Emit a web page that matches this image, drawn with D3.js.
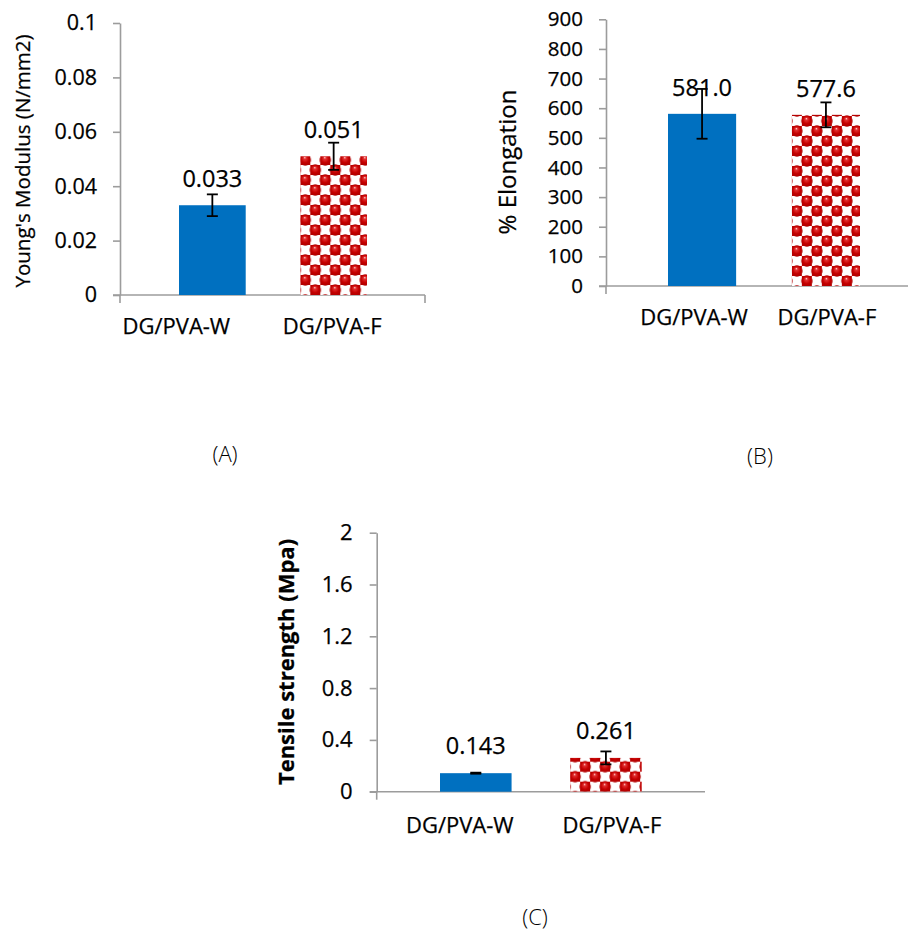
<!DOCTYPE html>
<html>
<head>
<meta charset="utf-8">
<script src="https://cdn.jsdelivr.net/npm/d3@7"></script>
<style>
  html, body { margin: 0; padding: 0; background: #fff; }
  svg { display: block; }
  text { font-family: "Open Sans", "Noto Sans", sans-serif; fill: #000; }
  text.ink { stroke: #000; stroke-width: 0.25px; }
</style>
</head>
<body>
<svg id="chart" width="912" height="932"></svg>
<script>
// Sample categories shared by all three panels
const categories = ["DG/PVA-W", "DG/PVA-F"];

// (A) Young's modulus, N/mm2
const modulusValues = [0.033, 0.051];
const modulusErrors = [0.004, 0.005];
const modulusTicks = [0, 0.02, 0.04, 0.06, 0.08, 0.1];

// (B) Elongation at break, %
const elongationValues = [581.0, 577.6];
const elongationErrors = [84, 42];
const elongationTicks = [0, 100, 200, 300, 400, 500, 600, 700, 800, 900];

// (C) Tensile strength, MPa
const tensileValues = [0.143, 0.261];
const tensileErrors = [0.004, 0.05];
const tensileTicks = [0, 0.4, 0.8, 1.2, 1.6, 2];

const svg = d3.select("#chart");
const AXIS_COLOR = "#9c9c9c";
const BLUE = "#0070C0";

// Red sphere checker fill used for the DG/PVA-F bars
const defs = svg.append("defs");
const grad = defs.append("radialGradient")
  .attr("id", "ballShade")
  .attr("cx", "50%").attr("cy", "50%").attr("r", "55%")
  .attr("fx", "45%").attr("fy", "28%");
grad.append("stop").attr("offset", "0%").attr("stop-color", "#ffe0e0");
grad.append("stop").attr("offset", "20%").attr("stop-color", "#e23030");
grad.append("stop").attr("offset", "60%").attr("stop-color", "#c40000");
grad.append("stop").attr("offset", "100%").attr("stop-color", "#a80000");

function makePattern(id, x0, y0) {
  const p = defs.append("pattern")
    .attr("id", id)
    .attr("patternUnits", "userSpaceOnUse")
    .attr("x", x0).attr("y", y0)
    .attr("width", 20).attr("height", 20);
  p.append("rect").attr("width", 20).attr("height", 20).attr("fill", "#fff");
  [[0, 0], [10, 10]].forEach(([cx, cy]) => {
    p.append("rect").attr("x", cx).attr("y", cy)
      .attr("width", 10).attr("height", 10).attr("fill", "#c00000");
  });
  // balls, with wrapped copies so they tile across the cell edges
  [[5, 5], [15, 15], [-5, 15], [15, -5], [25, 5], [5, 25], [-5, -5], [25, 25]].forEach(([cx, cy]) => {
    p.append("circle").attr("cx", cx).attr("cy", cy).attr("r", 5.7)
      .attr("fill", "url(#ballShade)");
  });
}

function drawPanel(cfg) {
  const g = svg.append("g");

  const y = d3.scaleLinear()
    .domain([0, cfg.ticks[cfg.ticks.length - 1]])
    .range([cfg.yBottom, cfg.yTop]);

  const x = d3.scaleBand()
    .domain(categories)
    .range(cfg.barRange)
    .paddingInner(0.45)
    .paddingOuter(0);

  // Value axis
  const yAxis = d3.axisLeft(y)
    .tickValues(cfg.ticks)
    .tickSize(7)
    .tickSizeOuter(0)
    .tickPadding(cfg.tickPad)
    .tickFormat(d => String(+d.toFixed(3)));

  const ya = g.append("g")
    .attr("transform", `translate(${cfg.axisX},0)`)
    .call(yAxis);
  ya.select(".domain").attr("stroke", AXIS_COLOR).attr("stroke-width", 1.6);
  ya.selectAll(".tick line").attr("stroke", AXIS_COLOR).attr("stroke-width", 1.6);
  ya.selectAll(".tick text")
    .attr("class", "ink")
    .attr("font-size", cfg.tickSize)
    .attr("font-family", "'Open Sans', sans-serif")
    .attr("fill", "#000");

  // Category axis with end tick marks
  g.append("line")
    .attr("x1", cfg.axisX - 7).attr("x2", cfg.xAxisEnd)
    .attr("y1", y(0)).attr("y2", y(0))
    .attr("stroke", AXIS_COLOR).attr("stroke-width", 1.6);
  g.append("line")
    .attr("x1", cfg.axisX).attr("x2", cfg.axisX)
    .attr("y1", y(0)).attr("y2", y(0) + 8)
    .attr("stroke", AXIS_COLOR).attr("stroke-width", 1.6);
  if (cfg.endTick) {
    g.append("line")
      .attr("x1", cfg.xAxisEnd).attr("x2", cfg.xAxisEnd)
      .attr("y1", y(0)).attr("y2", y(0) + 8)
      .attr("stroke", AXIS_COLOR).attr("stroke-width", 1.6);
  }

  const rows = categories.map((c, i) => ({
    cat: c, value: cfg.values[i], err: cfg.errors[i], i
  }));

  const patId = "spheres-" + cfg.key;
  makePattern(patId, x(categories[1]), y(0));

  // Bars
  g.selectAll("rect.bar")
    .data(rows)
    .join("rect")
    .attr("class", "bar")
    .attr("x", d => x(d.cat))
    .attr("width", x.bandwidth())
    .attr("y", d => y(d.value))
    .attr("height", d => y(0) - y(d.value))
    .attr("fill", d => d.i === 0 ? BLUE : `url(#${patId})`);

  // Error bars
  const eb = g.selectAll("g.err")
    .data(rows)
    .join("g")
    .attr("class", "err")
    .attr("transform", d => `translate(${x(d.cat) + x.bandwidth() / 2},0)`);
  eb.append("line")
    .attr("y1", d => y(d.value + d.err)).attr("y2", d => y(d.value - d.err))
    .attr("stroke", "#000").attr("stroke-width", 1.8);
  [1, -1].forEach(s => {
    eb.append("line")
      .attr("x1", -5.5).attr("x2", 5.5)
      .attr("y1", d => y(d.value + s * d.err)).attr("y2", d => y(d.value + s * d.err))
      .attr("stroke", "#000").attr("stroke-width", 1.8);
  });

  // Value labels
  g.selectAll("text.val")
    .data(rows)
    .join("text")
    .attr("class", "val ink")
    .attr("x", d => x(d.cat) + x.bandwidth() / 2)
    .attr("y", d => y(d.value) - cfg.valueGap)
    .attr("text-anchor", "middle")
    .attr("font-size", 23.5)
    .text(d => d3.format(cfg.valueFmt)(d.value));

  // Category labels
  g.selectAll("text.cat")
    .data(rows)
    .join("text")
    .attr("class", "cat ink")
    .attr("x", d => x(d.cat) + x.bandwidth() / 2 + cfg.catShift[d.i])
    .attr("y", y(0) + cfg.catDrop)
    .attr("text-anchor", "middle")
    .attr("font-size", 22)
    .text(d => d.cat);

  // Axis title
  g.append("text")
    .attr("class", "ink")
    .attr("transform", `translate(${cfg.titleX},${cfg.titleY}) rotate(-90)`)
    .attr("text-anchor", "middle")
    .attr("font-size", cfg.titleSize)
    .attr("font-weight", cfg.titleBold ? 700 : 400)
    .text(cfg.title);

  // Panel caption
  g.append("text")
    .attr("x", cfg.capX).attr("y", cfg.capY)
    .attr("text-anchor", "middle")
    .attr("font-size", 22)
    .attr("font-weight", 300)
    .attr("fill", "#111")
    .text(cfg.caption);
}

drawPanel({
  key: "a", values: modulusValues, errors: modulusErrors, ticks: modulusTicks,
  valueFmt: ".3f", axisX: 120, yTop: 23, yBottom: 295, barRange: [179, 367],
  xAxisEnd: 425, endTick: true, tickSize: 21.5, tickPad: 16, valueGap: 18,
  catShift: [-36, -1.5], catDrop: 39,
  title: "Young's Modulus (N/mm2)", titleX: 30, titleY: 161, titleSize: 20.5, titleBold: false,
  caption: "(A)", capX: 225, capY: 462
});

drawPanel({
  key: "b", values: elongationValues, errors: elongationErrors, ticks: elongationTicks,
  valueFmt: ".1f", axisX: 606, yTop: 19.3, yBottom: 286, barRange: [668, 860],
  xAxisEnd: 908, endTick: false, tickSize: 20.5, tickPad: 16, valueGap: 18,
  catShift: [-8, 1], catDrop: 39,
  title: "% Elongation", titleX: 516, titleY: 162, titleSize: 24, titleBold: false,
  caption: "(B)", capX: 760, capY: 464
});

drawPanel({
  key: "c", values: tensileValues, errors: tensileErrors, ticks: tensileTicks,
  valueFmt: ".3f", axisX: 376.7, yTop: 532.7, yBottom: 791.7, barRange: [440, 641.7],
  xAxisEnd: 705, endTick: false, tickSize: 22, tickPad: 17, valueGap: 19,
  catShift: [-16, 6], catDrop: 41,
  title: "Tensile strength (Mpa)", titleX: 294, titleY: 662, titleSize: 22, titleBold: true,
  caption: "(C)", capX: 535, capY: 925
});
</script>
</body>
</html>
